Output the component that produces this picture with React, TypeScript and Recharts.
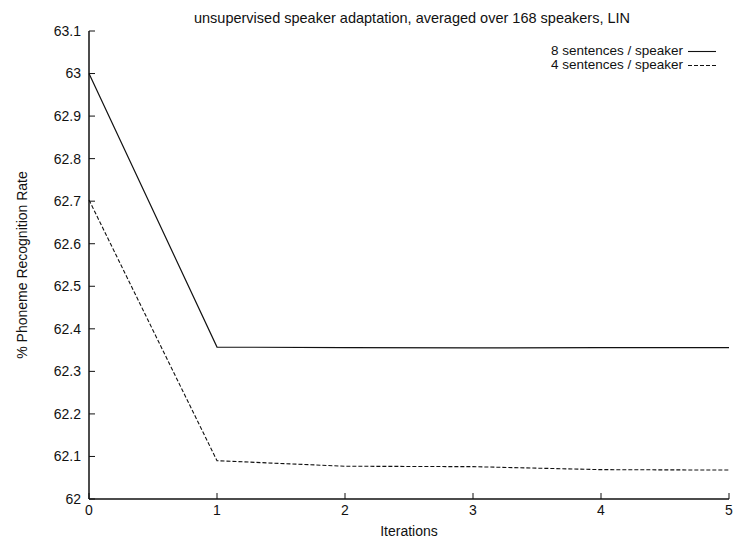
import { LineChart, Line, XAxis, YAxis, Legend } from "recharts";

// iterations on the x axis
const iterations = [0, 1, 2, 3, 4, 5];
// % phoneme recognition rate per iteration
const eightSentences = [63.0, 62.357, 62.356, 62.355, 62.356, 62.356];
const fourSentences = [62.703, 62.09, 62.077, 62.076, 62.069, 62.068];

const xTicks = [0, 1, 2, 3, 4, 5];
const yTicks = [62, 62.1, 62.2, 62.3, 62.4, 62.5, 62.6, 62.7, 62.8, 62.9, 63, 63.1];

const seriesNames = ["8 sentences / speaker", "4 sentences / speaker"];
const title = "unsupervised speaker adaptation, averaged over 168 speakers, LIN";

const data = iterations.map((it, i) => ({
  it,
  s8: eightSentences[i],
  s4: fourSentences[i],
}));

const FONT = "'Liberation Sans', Arial, Helvetica, sans-serif";
const INK = "#111";
const GAP = 8; // tickMargin, distance from label to axis line
const TICK = 6; // inward tick length

function fmtY(v: number) {
  return String(Math.round(v * 10) / 10);
}

// gnuplot-style ticks pointing into the plot
function LeftTick(p: any) {
  const ax = p.x + GAP;
  return (
    <g>
      <line x1={ax} x2={ax + TICK} y1={p.y} y2={p.y} stroke={INK} strokeWidth={1} />
      <text x={p.x} y={p.y} dy="0.35em" textAnchor="end" fill={INK} fontSize={14} fontFamily={FONT}>
        {fmtY(p.payload.value)}
      </text>
    </g>
  );
}

function BottomTick(p: any) {
  const ay = p.y - 4;
  return (
    <g>
      <line x1={p.x} x2={p.x} y1={ay} y2={ay - TICK} stroke={INK} strokeWidth={1} />
      <text x={p.x} y={p.y} dy="0.85em" textAnchor="middle" fill={INK} fontSize={14} fontFamily={FONT}>
        {p.payload.value}
      </text>
    </g>
  );
}

function TopTick(p: any) {
  const ay = p.y + GAP;
  return <line x1={p.x} x2={p.x} y1={ay} y2={ay + TICK} stroke={INK} strokeWidth={1} />;
}

function RightTick(p: any) {
  const ax = p.x - GAP;
  return <line x1={ax} x2={ax - TICK} y1={p.y} y2={p.y} stroke={INK} strokeWidth={1} />;
}

function KeyBox() {
  const rows = [
    { name: seriesNames[0], dash: undefined },
    { name: seriesNames[1], dash: "4 2" },
  ];
  return (
    <div style={{ fontFamily: FONT, fontSize: 13.5, color: INK }}>
      {rows.map((r) => (
        <div
          key={r.name}
          style={{ display: "flex", alignItems: "center", justifyContent: "flex-end", height: 14 }}
        >
          <span style={{ lineHeight: "14px" }}>{r.name}</span>
          <svg width={33} height={14} style={{ display: "block" }}>
            <line x1={5} x2={33} y1={7.5} y2={7.5} stroke={INK} strokeWidth={1.1} strokeDasharray={r.dash} />
          </svg>
        </div>
      ))}
    </div>
  );
}

export default function App() {
  return (
    <div style={{ position: "absolute", left: 0, top: 0, width: 735, height: 538, background: "#fff" }}>
      <div
        style={{
          position: "absolute",
          top: 10,
          left: 212,
          width: 400,
          whiteSpace: "nowrap",
          fontFamily: FONT,
          fontSize: 14.5,
          lineHeight: "16px",
          color: INK,
          display: "flex",
          justifyContent: "center",
        }}
      >
        {title}
      </div>
      <LineChart width={735} height={538} data={data} margin={{ top: 31, right: 6, bottom: 0, left: 0 }}>
        <XAxis
          xAxisId="b"
          dataKey="it"
          type="number"
          domain={[0, 5]}
          ticks={xTicks}
          height={39}
          tickSize={0}
          tickMargin={4}
          tickLine={false}
          stroke={INK}
          strokeWidth={1.5}
          tick={BottomTick}
          label={{
            value: "Iterations",
            position: "insideBottom",
            offset: 2,
            style: { fill: INK, fontSize: 14, fontFamily: FONT },
          }}
        />
        <XAxis
          xAxisId="t"
          orientation="top"
          dataKey="it"
          type="number"
          domain={[0, 5]}
          ticks={xTicks}
          height={0}
          tickSize={0}
          tickMargin={GAP}
          tickLine={false}
          tick={TopTick}
          stroke={INK}
          strokeWidth={1.5}
        />
        <YAxis
          yAxisId="l"
          type="number"
          domain={[62, 63.1]}
          ticks={yTicks}
          width={89}
          tickSize={0}
          tickMargin={GAP}
          tickLine={false}
          interval={0}
          stroke={INK}
          strokeWidth={1.5}
          tick={LeftTick}
          label={{
            value: "% Phoneme Recognition Rate",
            angle: -90,
            position: "insideLeft",
            dx: 17,
            style: { fill: INK, fontSize: 14, fontFamily: FONT, textAnchor: "middle" },
          }}
        />
        <YAxis
          yAxisId="r"
          orientation="right"
          type="number"
          domain={[62, 63.1]}
          ticks={yTicks}
          width={0}
          tickSize={0}
          tickMargin={GAP}
          tickLine={false}
          tick={RightTick}
          interval={0}
          stroke={INK}
          strokeWidth={1.5}
        />
        <Legend
          layout="horizontal"
          verticalAlign="middle"
          align="center"
          content={() => <KeyBox />}
          wrapperStyle={{ position: "absolute", top: 44, right: 19, left: "auto", width: "auto", bottom: "auto" }}
        />
        <Line
          xAxisId="b"
          yAxisId="l"
          type="linear"
          dataKey="s8"
          name={seriesNames[0]}
          stroke={INK}
          strokeWidth={1.2}
          dot={false}
          isAnimationActive={false}
        />
        <Line
          xAxisId="b"
          yAxisId="l"
          type="linear"
          dataKey="s4"
          name={seriesNames[1]}
          stroke={INK}
          strokeWidth={1.1}
          strokeDasharray="4 2"
          dot={false}
          isAnimationActive={false}
        />
      </LineChart>
    </div>
  );
}
